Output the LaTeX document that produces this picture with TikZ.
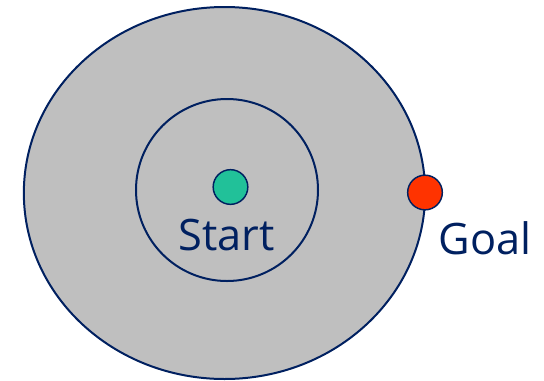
\documentclass[tikz,border=0pt]{standalone}
\usepackage{fontspec}
\setmainfont{Open Sans}
\usetikzlibrary{shapes.geometric}
\definecolor{navy}{HTML}{002060}
\definecolor{fillgrey}{HTML}{BFBFBF}
\definecolor{startgreen}{HTML}{21C199}
\definecolor{goalred}{HTML}{FF3300}
\begin{document}
\begin{tikzpicture}[x=0.75pt,y=-0.75pt,
  ring/.style={draw=navy,line width=1.5pt,inner sep=0pt,outer sep=0pt},
  dot/.style={circle,draw=navy,line width=1.1pt,inner sep=0pt,minimum size=26pt},
  lbl/.style={text=navy,font=\fontsize{32.5}{36}\selectfont,anchor=base,inner sep=0pt}]
\useasboundingbox (0,0) rectangle (544,380);
\node[ring,ellipse,fill=fillgrey,minimum width=301pt,minimum height=279pt] (outer) at (224.5,193) {};
\node[ring,circle,minimum size=136.5pt] (inner) at (227,190) {};
\node[dot,fill=startgreen] (start) at (230.5,187) {};
\node[dot,fill=goalred] (goal) at (425,192.5) {};
\node[lbl] (startlbl) at (226.7,250) {Start};
\node[lbl] (goallbl) at (485,254) {Goal};
\end{tikzpicture}
\end{document}
